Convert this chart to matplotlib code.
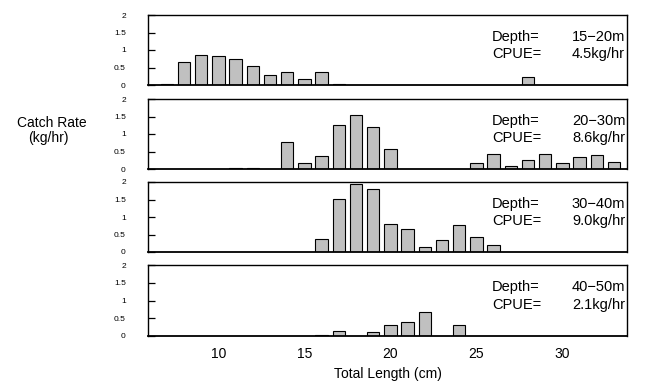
import matplotlib
matplotlib.use("Agg")
import matplotlib.pyplot as plt

plt.rcParams['font.family'] = ['Liberation Sans', 'DejaVu Sans']

# Data: total length (cm) bins and catch rate (kg/hr) per depth stratum
p1_len = [7, 8, 9, 10, 11, 12, 13, 14, 15, 16, 17, 28]
p1_val = [0.03, 0.67, 0.86, 0.83, 0.74, 0.53, 0.30, 0.36, 0.16, 0.38, 0.03, 0.22]

p2_len = [8, 9, 10, 11, 12, 13, 14, 15, 16, 17, 18, 19, 20, 25, 26, 27, 28, 29, 30, 31, 32, 33]
p2_val = [0.01, 0.01, 0.01, 0.04, 0.04, 0.01, 0.76, 0.18, 0.36, 1.26, 1.54, 1.19, 0.57,
          0.18, 0.42, 0.10, 0.25, 0.42, 0.16, 0.35, 0.39, 0.19]

p3_len = [16, 17, 18, 19, 20, 21, 22, 23, 24, 25, 26]
p3_val = [0.36, 1.52, 1.95, 1.80, 0.79, 0.65, 0.13, 0.33, 0.77, 0.43, 0.21]

p4_len = [16, 17, 19, 20, 21, 22, 24]
p4_val = [0.02, 0.13, 0.12, 0.32, 0.40, 0.69, 0.30]

depths = ["15\u221220m", "20\u221230m", "30\u221240m", "40\u221250m"]
cpues = ["4.5kg/hr", "8.6kg/hr", "9.0kg/hr", "2.1kg/hr"]

y_ticks = [0, 0.5, 1, 1.5, 2]
y_ticklabels = ["0", "0.5", "1", "1.5", "2"]
x_ticks = [10, 15, 20, 25, 30]

panels = [(p1_len, p1_val), (p2_len, p2_val), (p3_len, p3_val), (p4_len, p4_val)]

W, H = 650, 386
fig = plt.figure(figsize=(6.5, 3.86), dpi=100)

left_px, right_px = 148, 627
rows_px = [(15, 85), (99, 169), (182, 252), (265, 336)]

for i, ((xs, ys), (top, bot)) in enumerate(zip(panels, rows_px)):
    ax = fig.add_axes([left_px / W, 1 - bot / H, (right_px - left_px) / W, (bot - top) / H])
    colors = ['#3a3a3a' if v < 0.05 else '#c0c0c0' for v in ys]
    ax.bar(xs, ys, width=0.72, color=colors, edgecolor='black', linewidth=0.8)
    ax.set_xlim(5.9, 33.76)
    ax.set_ylim(0, 2)
    ax.set_yticks(y_ticks)
    ax.set_yticklabels(y_ticklabels, fontsize=6)
    ax.tick_params(axis='y', direction='in', length=5, width=0.9, pad=16)
    for s in ax.spines.values():
        s.set_linewidth(1.0)
    ax.spines['bottom'].set_linewidth(1.3)
    ax.set_xticks(x_ticks)
    if i < 3:
        ax.tick_params(axis='x', length=0, labelbottom=False)
    else:
        ax.tick_params(axis='x', length=0, labelsize=10, pad=8)
        ax.set_xlabel("Total Length (cm)", fontsize=10, labelpad=4)
    ax.text(0.718, 0.69, "Depth=", transform=ax.transAxes, fontsize=10.5, va='center', ha='left')
    ax.text(0.885, 0.69, depths[i], transform=ax.transAxes, fontsize=10.5, va='center', ha='left')
    ax.text(0.718, 0.44, "CPUE=", transform=ax.transAxes, fontsize=10.5, va='center', ha='left')
    ax.text(0.885, 0.44, cpues[i], transform=ax.transAxes, fontsize=10.5, va='center', ha='left')

fig.text(52 / W, 1 - 123 / H, "Catch Rate", fontsize=10, ha='center', va='center')
fig.text(48 / W, 1 - 138 / H, "(kg/hr)", fontsize=10, ha='center', va='center')

fig.savefig("out.png", dpi=100)
